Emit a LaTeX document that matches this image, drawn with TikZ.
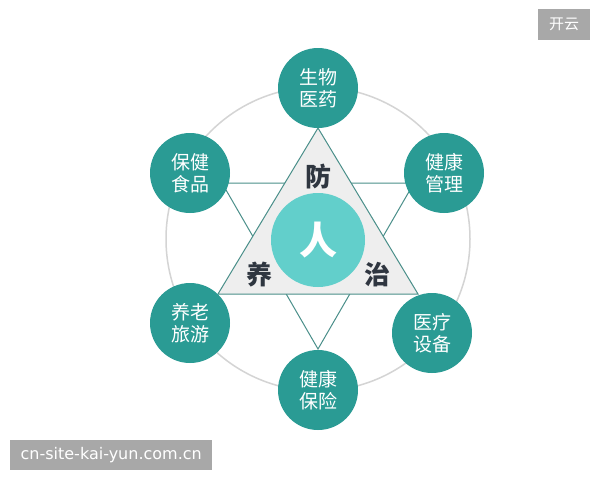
\documentclass[tikz,border=0pt]{standalone}
\usepackage{fontspec}
\setmainfont{DejaVu Sans}
\newfontfamily\cjk{Noto Sans CJK SC}
\definecolor{tealdark}{HTML}{2A9B94}
\definecolor{teallight}{HTML}{62CFCB}
\definecolor{tealline}{HTML}{4A8F8A}
\definecolor{trifill}{HTML}{EEEEEE}
\definecolor{ringgray}{HTML}{D4D4D4}
\definecolor{labeldark}{HTML}{2F3640}
\definecolor{wmgray}{HTML}{A8A8A8}
\begin{document}
\begin{tikzpicture}[x=1pt,y=-1pt,
  outer/.style={circle,fill=tealdark,minimum size=80pt,inner sep=0pt,text=white,align=center,font=\cjk\fontsize{19}{22}\selectfont},
  starline/.style={draw=tealline,line width=1pt},
  tri/.style={draw=tealline,fill=trifill,line width=1pt},
  core/.style={circle,fill=teallight,minimum size=94pt,inner sep=0pt,text=white,font=\cjk\bfseries\fontsize{38}{40}\selectfont},
  mark3/.style={text=labeldark,font=\cjk\bfseries\fontsize{26}{28}\selectfont},
  wmbox/.style={fill=wmgray,text=white,inner sep=0pt,anchor=north west}]
\useasboundingbox (0,0) rectangle (600,480);
\fill[white] (0,0) rectangle (600,480);
% big ring
\node[circle,draw=ringgray,line width=1.5pt,minimum size=304pt,inner sep=0pt] (ring) at (318,239) {};
% downward triangle
\coordinate (d1) at (222,183);
\coordinate (d2) at (414,183);
\coordinate (d3) at (318,349);
\draw[starline] (d1) -- (d2) -- (d3) -- cycle;
% upward triangle
\coordinate (u1) at (318,128);
\coordinate (u2) at (218,294);
\coordinate (u3) at (418,294);
\draw[tri] (u1) -- (u2) -- (u3) -- cycle;
% center
\node[core] (ren) at (318,240) {人};
\node[mark3] (fang) at (318,176) {防};
\node[mark3] (yang) at (259,275) {养};
\node[mark3] (zhi) at (377,275) {治};
% outer circles
\node[outer] (c1) at (318,88) {生物\\医药};
\node[outer] (c2) at (444,173) {健康\\管理};
\node[outer] (c3) at (432,333) {医疗\\设备};
\node[outer] (c4) at (318,390) {健康\\保险};
\node[outer] (c5) at (190,323) {养老\\旅游};
\node[outer] (c6) at (190,173) {保健\\食品};
% watermarks
\node[wmbox,minimum width=52pt,minimum height=31pt,font=\cjk\fontsize{15}{17}\selectfont] (wm1) at (538,9) {开云};
\node[wmbox,minimum width=202pt,minimum height=30pt,font=\fontsize{16}{18}\selectfont] (wm2) at (10,440) {cn-site-kai-yun.com.cn};
\end{tikzpicture}
\end{document}
